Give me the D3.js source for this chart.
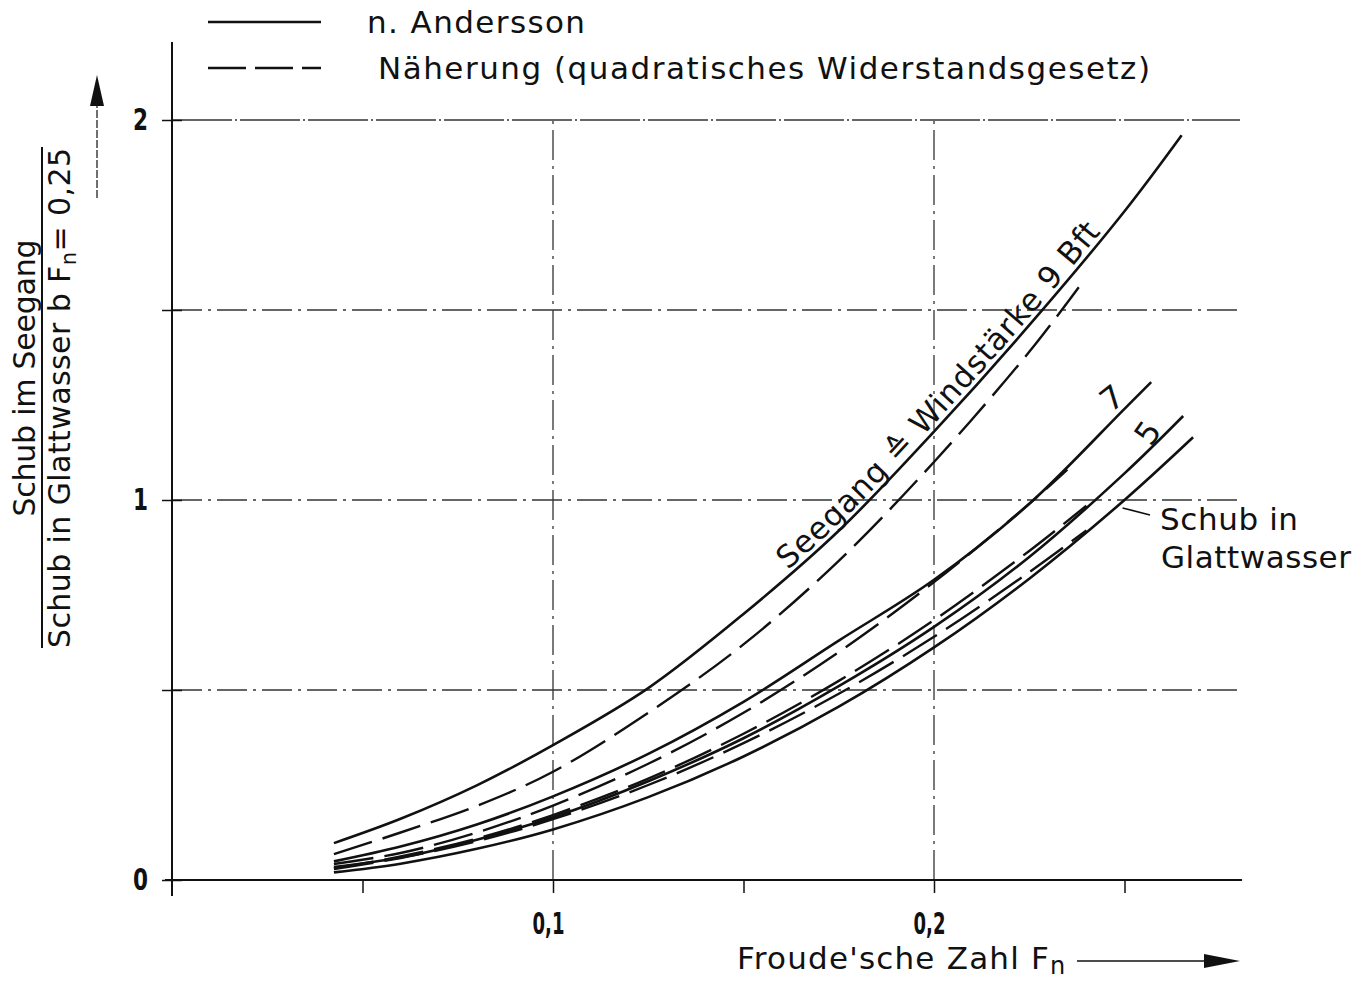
<!DOCTYPE html>
<html><head><meta charset="utf-8">
<script src="https://cdn.jsdelivr.net/npm/d3@7"></script>
<style>
html,body{margin:0;padding:0;background:#fff;}
text{font-family:"DejaVu Sans","Liberation Sans",sans-serif;fill:#111;}
</style></head>
<body>
<script>
// ---- data ----
const xTicks = [0.05, 0.1, 0.15, 0.2, 0.25];
const xTickLabels = ["", "0,1", "", "0,2", ""];
const yTicks = [0, 0.5, 1, 1.5, 2];
const yTickLabels = ["0", "", "1", "", "2"];
const xGrid = [0.1, 0.2];
const yGrid = [0.5, 1, 1.5, 2];

// n. Andersson (solid)
const fnA9 = [0.0425, 0.06, 0.08, 0.1, 0.125, 0.15, 0.175, 0.2, 0.225, 0.25, 0.265];
const valA9 = [0.097, 0.161, 0.249, 0.355, 0.505, 0.70, 0.919, 1.18, 1.46, 1.76, 1.96];
const fnA7 = [0.0425, 0.06, 0.08, 0.1, 0.125, 0.15, 0.175, 0.2, 0.225, 0.25, 0.257];
const valA7 = [0.049, 0.088, 0.146, 0.22, 0.332, 0.469, 0.63, 0.79, 0.99, 1.24, 1.31];
const fnA5 = [0.0425, 0.06, 0.08, 0.1, 0.125, 0.15, 0.175, 0.2, 0.225, 0.25, 0.2654];
const valA5 = [0.034, 0.059, 0.106, 0.165, 0.26, 0.373, 0.51, 0.666, 0.85, 1.07, 1.221];
const fnGl = [0.0425, 0.06, 0.08, 0.1, 0.125, 0.15, 0.175, 0.2, 0.225, 0.25, 0.268];
const valGl = [0.020, 0.043, 0.082, 0.133, 0.218, 0.325, 0.456, 0.612, 0.793, 1.0, 1.165];

// Näherung (dashed)
const fnN9 = [0.0425, 0.06, 0.08, 0.1, 0.125, 0.15, 0.175, 0.2, 0.225, 0.238];
const valN9 = [0.068, 0.125, 0.195, 0.285, 0.44, 0.62, 0.84, 1.10, 1.39, 1.56];
const fnN7 = [0.0425, 0.06, 0.08, 0.1, 0.125, 0.15, 0.175, 0.2, 0.225, 0.235];
const valN7 = [0.042, 0.071, 0.125, 0.196, 0.306, 0.44, 0.60, 0.784, 0.99, 1.08];
const fnN5 = [0.0425, 0.06, 0.08, 0.1, 0.125, 0.15, 0.175, 0.2, 0.225, 0.24];
const valN5 = [0.031, 0.062, 0.109, 0.171, 0.267, 0.385, 0.524, 0.684, 0.866, 0.985];
const fnNG = [0.0425, 0.06, 0.08, 0.1, 0.125, 0.15, 0.175, 0.2, 0.225, 0.24];
const valNG = [0.029, 0.058, 0.102, 0.16, 0.25, 0.36, 0.49, 0.64, 0.81, 0.92];

const legendLabels = ["n. Andersson", "Näherung (quadratisches Widerstandsgesetz)"];
const curveLabel9 = "Seegang ≙ Windstärke 9 Bft";

// ---- drawing ----
const W = 1365, H = 982;
const svg = d3.select("body").append("svg").attr("width", W).attr("height", H);
svg.append("rect").attr("width", W).attr("height", H).attr("fill", "#fff");

const x = d3.scaleLinear().domain([0, 0.28]).range([172, 172 + 0.28 * 3810]);
const y = d3.scaleLinear().domain([0, 2]).range([880, 120]);
const ink = "#111";
const numFont = "'DejaVu Sans','Liberation Sans',sans-serif";

// grid
const gridDash = "30,6,3,6";
svg.append("g").selectAll("line").data(yGrid).join("line")
  .attr("x1", x(0)).attr("x2", 1240).attr("y1", d => y(d)).attr("y2", d => y(d))
  .attr("stroke", "#333").attr("stroke-width", d => d === 2 ? 1.6 : 1.3)
  .attr("stroke-dasharray", d => d === 2 ? "60,3,2,3" : gridDash);
svg.append("g").selectAll("line").data(xGrid).join("line")
  .attr("x1", d => x(d)).attr("x2", d => x(d)).attr("y1", y(0)).attr("y2", y(2))
  .attr("stroke", "#333").attr("stroke-width", 1.3).attr("stroke-dasharray", gridDash);

// axes
const yAxis = d3.axisLeft(y).tickValues(yTicks).tickSize(10).tickPadding(14)
  .tickFormat((d, i) => yTickLabels[i]);
const gy = svg.append("g").attr("transform", `translate(${x(0)},0)`).call(yAxis);
gy.select(".domain").remove();
gy.selectAll(".tick line").attr("x1", 10).attr("stroke", ink).attr("stroke-width", 1.5);
gy.selectAll(".tick text").attr("font-size", 30).attr("font-weight", "bold")
  .attr("font-family", numFont).attr("fill", ink)
  .attr("textLength", function () { return this.textContent ? 15 : null; })
  .attr("lengthAdjust", "spacingAndGlyphs");
svg.append("line").attr("x1", x(0)).attr("x2", x(0)).attr("y1", 42).attr("y2", 896)
  .attr("stroke", ink).attr("stroke-width", 2);

const xAxis = d3.axisBottom(x).tickValues(xTicks).tickSize(13).tickPadding(20)
  .tickFormat((d, i) => xTickLabels[i]);
const gx = svg.append("g").attr("transform", `translate(0,${y(0)})`).call(xAxis);
gx.select(".domain").remove();
gx.selectAll(".tick line").attr("stroke", ink).attr("stroke-width", 1.5);
gx.selectAll(".tick text").attr("font-size", 30).attr("font-weight", "bold").attr("dx", -5)
  .attr("font-family", numFont).attr("fill", ink)
  .attr("textLength", function () { return this.textContent ? 32 : null; })
  .attr("lengthAdjust", "spacingAndGlyphs");
svg.append("line").attr("x1", 165).attr("x2", 1242).attr("y1", y(0)).attr("y2", y(0))
  .attr("stroke", ink).attr("stroke-width", 2);

// curves
const line = d3.line().x(d => x(d[0])).y(d => y(d[1])).curve(d3.curveCatmullRom.alpha(0.5));
const zip = (a, b) => a.map((v, i) => [v, b[i]]);
const series = [
  {id: "a9", d: zip(fnA9, valA9), dash: null},
  {id: "a7", d: zip(fnA7, valA7), dash: null},
  {id: "a5", d: zip(fnA5, valA5), dash: null},
  {id: "gl", d: zip(fnGl, valGl), dash: null},
  {id: "n9", d: zip(fnN9, valN9), dash: "40,11"},
  {id: "n7", d: zip(fnN7, valN7), dash: "40,11"},
  {id: "n5", d: zip(fnN5, valN5), dash: "40,11"},
  {id: "ng", d: zip(fnNG, valNG), dash: "40,11"},
];
svg.append("g").selectAll("path").data(series).join("path")
  .attr("id", s => "c_" + s.id)
  .attr("d", s => line(s.d)).attr("fill", "none").attr("stroke", ink)
  .attr("stroke-width", s => s.dash ? 2.4 : 2.6)
  .attr("stroke-dasharray", s => s.dash).attr("stroke-linecap", "butt");

// text along the 9 Bft curve
const p9 = document.getElementById("c_a9");
const total = p9.getTotalLength();
let lo = 0, hi = total;
const targetX = x(0.1625);
for (let k = 0; k < 40; k++) { const m = (lo + hi) / 2; if (p9.getPointAtLength(m).x < targetX) lo = m; else hi = m; }
svg.append("text").attr("font-size", 31).attr("dy", -5)
  .append("textPath").attr("href", "#c_a9").attr("startOffset", lo)
  .attr("textLength", 462).attr("lengthAdjust", "spacing")
  .text(curveLabel9);

// 7 and 5 labels
svg.append("text").attr("font-size", 32)
  .attr("transform", `translate(${x(0.2485)},${y(1.245)}) rotate(-38)`).attr("text-anchor", "middle").text("7");
svg.append("text").attr("font-size", 32)
  .attr("transform", `translate(${x(0.2585)},${y(1.16)}) rotate(-55)`).attr("text-anchor", "middle").text("5");

// Schub in Glattwasser label
svg.append("line").attr("x1", x(0.2495)).attr("y1", y(1.0) + 8).attr("x2", 1150).attr("y2", 515)
  .attr("stroke", ink).attr("stroke-width", 1.8);
svg.append("text").attr("x", 1160).attr("y", 530).attr("font-size", 31)
  .attr("textLength", 138).attr("lengthAdjust", "spacing").text("Schub in");
svg.append("text").attr("x", 1161).attr("y", 568).attr("font-size", 31)
  .attr("textLength", 190).attr("lengthAdjust", "spacing").text("Glattwasser");

// legend
svg.append("line").attr("x1", 208).attr("x2", 321).attr("y1", 22).attr("y2", 22)
  .attr("stroke", ink).attr("stroke-width", 2.6);
svg.append("line").attr("x1", 208).attr("x2", 321).attr("y1", 68).attr("y2", 68)
  .attr("stroke", ink).attr("stroke-width", 2.4).attr("stroke-dasharray", "38,9");
svg.append("text").attr("x", 367).attr("y", 33).attr("font-size", 31)
  .attr("textLength", 218).attr("lengthAdjust", "spacing").text(legendLabels[0]);
svg.append("text").attr("x", 378).attr("y", 79).attr("font-size", 31)
  .attr("textLength", 772).attr("lengthAdjust", "spacing").text(legendLabels[1]);

// y-axis label (fraction)
const yl = svg.append("g");
yl.append("text").attr("transform", "translate(35,378) rotate(-90)").attr("text-anchor", "middle")
  .attr("font-size", 30).attr("textLength", 277).attr("lengthAdjust", "spacing").text("Schub im Seegang");
yl.append("line").attr("x1", 42).attr("x2", 42).attr("y1", 147).attr("y2", 648)
  .attr("stroke", ink).attr("stroke-width", 2);
const t2 = yl.append("text").attr("transform", "translate(70,648) rotate(-90)")
  .attr("font-size", 30).attr("textLength", 500).attr("lengthAdjust", "spacing");
t2.append("tspan").text("Schub in Glattwasser b F");
t2.append("tspan").attr("font-size", 21).attr("dy", 6).text("n");
t2.append("tspan").attr("dy", -6).text("= 0,25");

// y arrow
svg.append("line").attr("x1", 97).attr("x2", 97).attr("y1", 100).attr("y2", 200)
  .attr("stroke", ink).attr("stroke-width", 1.2).attr("stroke-dasharray", "8,2");
svg.append("path").attr("d", "M97,75 L90,106 L104,106 Z").attr("fill", ink);

// x label
const xl = svg.append("text").attr("x", 737).attr("y", 969).attr("font-size", 31)
  .attr("letter-spacing", 1.2);
xl.append("tspan").text("Froude'sche Zahl  F");
xl.append("tspan").attr("font-size", 24).attr("dy", 5).text("n");
svg.append("line").attr("x1", 1077).attr("x2", 1210).attr("y1", 961).attr("y2", 961)
  .attr("stroke", ink).attr("stroke-width", 1.6);
svg.append("path").attr("d", "M1240,961 L1204,954 L1204,968 Z").attr("fill", ink);
</script>
</body></html>
